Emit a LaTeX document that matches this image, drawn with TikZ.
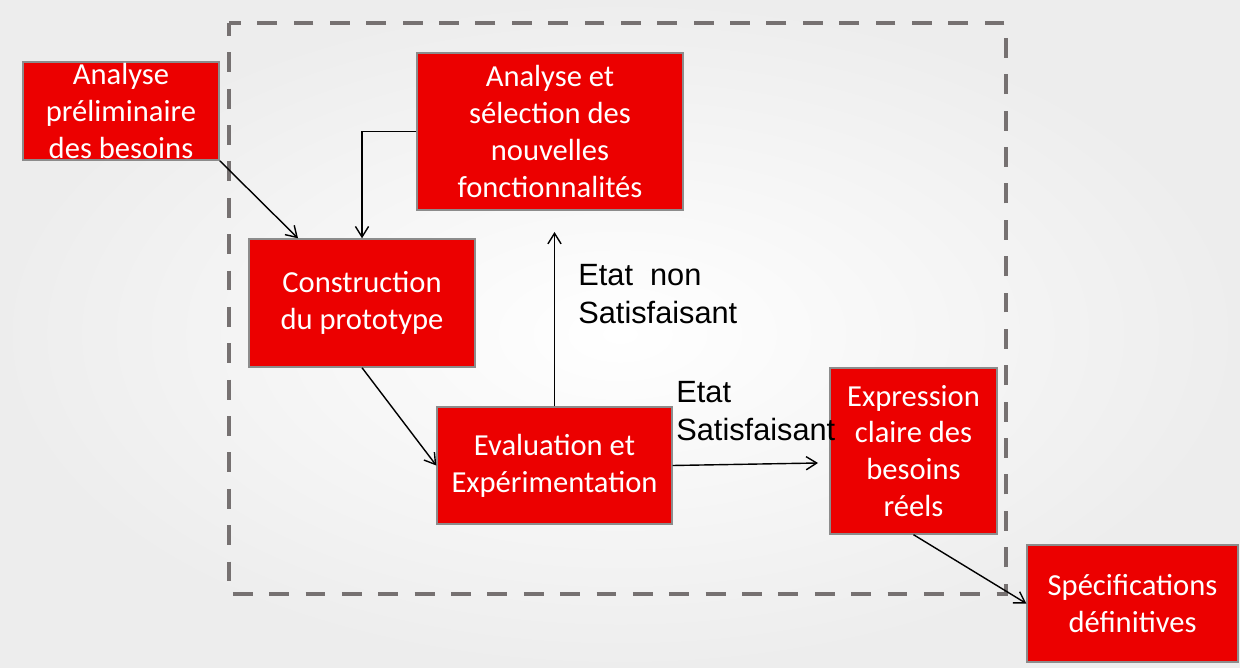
\documentclass[tikz,border=0pt]{standalone}
\usepackage{fontspec}
\setmainfont{Carlito}
\newfontfamily\etatfont{Liberation Sans}
\usetikzlibrary{arrows.meta}

\definecolor{boxred}{RGB}{236,0,0}
\definecolor{boxline}{RGB}{140,140,140}
\definecolor{framegray}{RGB}{118,113,113}

\tikzset{
  stepbox/.style={draw=boxline, line width=0.8pt, fill=boxred, text=white, align=center,
    inner sep=0pt, font=\fontsize{17.4}{21}\selectfont},
  flow/.style={->, line width=0.8pt},
  framebox/.style={draw=framegray, line width=2.8pt, dash pattern=on 11.3pt off 9.4pt, dash phase=4pt},
  etat/.style={font=\etatfont\fontsize{17.5}{21.5}\selectfont, align=left, inner sep=0pt, anchor=west}
}

\begin{document}
\begin{tikzpicture}[x=0.02cm, y=-0.02cm, >={Straight Barb[length=6pt,width=7.5pt]}]
  \useasboundingbox (0,0) rectangle (1240,668);
  \shade[inner color=white, outer color=black!7] (0,0) rectangle (1240,668);
  % dashed frame
  \draw[framebox] (229,23) rectangle (1006,594);
  % steps
  \node[stepbox, minimum width=3.92cm, minimum height=1.96cm] (prelim) at (121,111) {Analyse\\préliminaire\\des besoins};
  \node[stepbox, minimum width=5.32cm, minimum height=3.14cm] (select) at (550,131.5) {Analyse et\\sélection des\\nouvelles\\fonctionnalités};
  \node[stepbox, minimum width=4.52cm, minimum height=2.56cm] (proto) at (362,303) {Construction\\du prototype};
  \node[stepbox, minimum width=4.7cm, minimum height=2.34cm] (eval) at (554.5,465.5) {Evaluation et\\Expérimentation};
  \node[stepbox, minimum width=3.34cm, minimum height=3.32cm] (expr) at (913.5,451) {Expression\\claire des\\besoins\\réels};
  \node[stepbox, minimum width=4.22cm, minimum height=2.34cm] (spec) at (1132.5,603.5) {Spécifications\\définitives};
  % labels
  \node[etat] (nonsat) at (578,294) {Etat~~non\\Satisfaisant};
  \node[etat] (sat) at (676,411) {Etat\\Satisfaisant};
  % free ends
  \coordinate (nonsattip) at (554.5,232);
  \coordinate (sattip) at (818,463);
  % connectors
  \draw[flow] (prelim.south east) -- ([xshift=-1.28cm]proto.north);
  \draw[flow] (select.west) -| (proto.north);
  \draw[flow] (proto.south) -- (eval.west);
  \draw[flow] (eval.north) -- (nonsattip);
  \draw[flow] (eval.east) -- (sattip);
  \draw[flow] (expr.south) -- (spec.west);
\end{tikzpicture}
\end{document}
